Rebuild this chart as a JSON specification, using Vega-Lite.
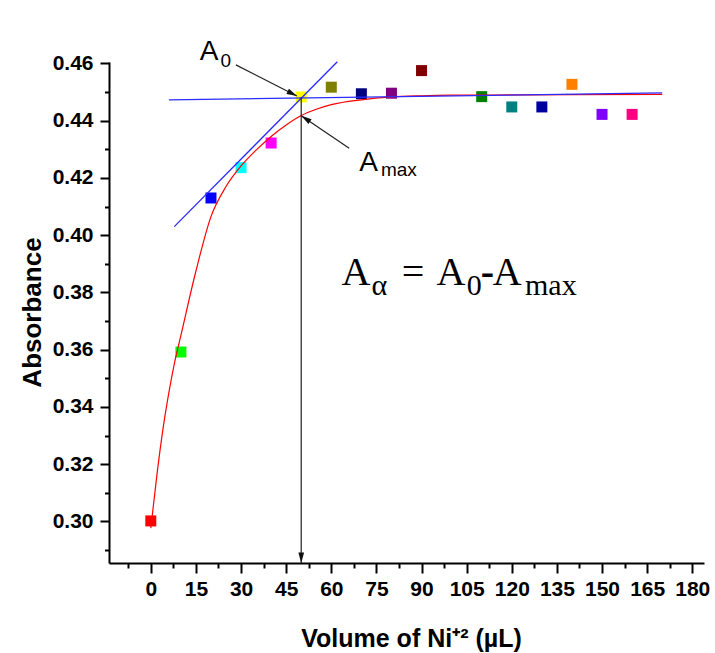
{
  "$schema": "https://vega.github.io/schema/vega-lite/v6.json",
  "autosize": "none",
  "width": 595,
  "height": 501,
  "padding": {"left": 109, "top": 62, "right": 11, "bottom": 90},
  "background": "white",
  "config": {"view": {"stroke": null}},
  "datasets": {
    "pts": [
      {"vol": 0, "abs": 0.3002}, {"vol": 10, "abs": 0.3592}, {"vol": 20, "abs": 0.413},
      {"vol": 30, "abs": 0.4236}, {"vol": 40, "abs": 0.4322}, {"vol": 50, "abs": 0.4483},
      {"vol": 60, "abs": 0.4517}, {"vol": 70, "abs": 0.4494}, {"vol": 80, "abs": 0.4496},
      {"vol": 90, "abs": 0.4575}, {"vol": 110, "abs": 0.4484}, {"vol": 120, "abs": 0.4448},
      {"vol": 130, "abs": 0.4448}, {"vol": 140, "abs": 0.4527}, {"vol": 150, "abs": 0.4422},
      {"vol": 160, "abs": 0.4422}
    ],
    "fit": [
      {"vol": 0, "abs": 0.2977}, {"vol": 2, "abs": 0.316}, {"vol": 4, "abs": 0.332},
      {"vol": 6, "abs": 0.345}, {"vol": 8, "abs": 0.356}, {"vol": 10, "abs": 0.365},
      {"vol": 15, "abs": 0.3875}, {"vol": 20, "abs": 0.4065}, {"vol": 25, "abs": 0.417},
      {"vol": 30, "abs": 0.4242}, {"vol": 35, "abs": 0.4297}, {"vol": 40, "abs": 0.4345},
      {"vol": 45, "abs": 0.4385}, {"vol": 50, "abs": 0.4418}, {"vol": 55, "abs": 0.444},
      {"vol": 60, "abs": 0.4456}, {"vol": 70, "abs": 0.4473}, {"vol": 80, "abs": 0.4483},
      {"vol": 90, "abs": 0.4487}, {"vol": 100, "abs": 0.4489}, {"vol": 120, "abs": 0.449},
      {"vol": 140, "abs": 0.4491}, {"vol": 170, "abs": 0.4492}
    ],
    "lines": [
      {"line": "h", "vol": 6, "abs": 0.4473}, {"line": "h", "vol": 170, "abs": 0.4497},
      {"line": "t", "vol": 7.8, "abs": 0.403}, {"line": "t", "vol": 62, "abs": 0.4606}
    ],
    "segs": [
      {"id": "a0", "vol": 28.27, "abs": 0.4595, "vol2": 48.55, "abs2": 0.4486},
      {"id": "amax", "vol": 65.95, "abs": 0.4304, "vol2": 50.12, "abs2": 0.4416},
      {"id": "v", "vol": 50, "abs": 0.4482, "vol2": 50, "abs2": 0.2855}
    ],
    "heads": [
      {"id": "a0", "vol": 47.06, "abs": 0.4494},
      {"id": "amax", "vol": 51.48, "abs": 0.4407},
      {"id": "v", "vol": 50, "abs": 0.2873}
    ],
    "notes": [
      {"g": "big", "t": "A", "vol": 63.4, "abs": 0.3826},
      {"g": "big", "t": "=", "vol": 83.4, "abs": 0.3826},
      {"g": "big", "t": "A", "vol": 95.0, "abs": 0.3826},
      {"g": "big", "t": "A", "vol": 113.7, "abs": 0.3826},
      {"g": "small", "t": "α", "vol": 73.4, "abs": 0.3791},
      {"g": "small", "t": "0", "vol": 105.0, "abs": 0.3791},
      {"g": "small", "t": "max", "vol": 124.4, "abs": 0.3791},
      {"g": "dash", "t": "-", "vol": 109.7, "abs": 0.3826},
      {"g": "lab", "t": "A", "vol": 16.3, "abs": 0.4612},
      {"g": "lab", "t": "A", "vol": 69.3, "abs": 0.4226},
      {"g": "sub", "t": "0", "vol": 23.2, "abs": 0.4586},
      {"g": "sub", "t": "max", "vol": 76.5, "abs": 0.4208}
    ]
  },
  "encoding": {
    "x": {
      "field": "vol", "type": "quantitative",
      "scale": {"domain": [-13.9, 183.9], "nice": false, "zero": false},
      "axis": {
        "title": "Volume of Ni⁺² (µL)",
        "values": [-7.5, 0, 7.5, 15, 22.5, 30, 37.5, 45, 52.5, 60, 67.5, 75, 82.5, 90, 97.5, 105, 112.5, 120, 127.5, 135, 142.5, 150, 157.5, 165, 172.5, 180],
        "labelExpr": "datum.value % 15 === 0 ? datum.label : ''",
        "format": "d",
        "grid": false, "labelOverlap": false, "labelFlush": false, "labelBound": false,
        "domainColor": "black", "domainWidth": 2, "tickColor": "black", "tickWidth": 2,
        "tickSize": {"condition": {"test": "datum.value % 15 === 0", "value": 10}, "value": 5},
        "labelFont": "Liberation Sans", "labelFontWeight": "bold", "labelFontSize": 21, "labelColor": "black",
        "labelPadding": 5,
        "titleFont": "Liberation Sans", "titleFontWeight": "bold", "titleFontSize": 25, "titleColor": "black",
        "titleX": 302, "titleY": 83, "titleAlign": "center", "titleBaseline": "alphabetic"
      }
    },
    "y": {
      "field": "abs", "type": "quantitative",
      "scale": {"domain": [0.2855, 0.4605], "nice": false, "zero": false},
      "axis": {
        "title": "Absorbance",
        "values": [0.29, 0.3, 0.31, 0.32, 0.33, 0.34, 0.35, 0.36, 0.37, 0.38, 0.39, 0.4, 0.41, 0.42, 0.43, 0.44, 0.45, 0.46],
        "labelExpr": "round(datum.value * 100) % 2 === 0 ? format(datum.value, '.2f') : ''",
        "grid": false, "labelOverlap": false, "labelFlush": false, "labelBound": false,
        "domainColor": "black", "domainWidth": 2, "tickColor": "black", "tickWidth": 2,
        "tickSize": {"condition": {"test": "round(datum.value * 100) % 2 === 0", "value": 9}, "value": 4.5},
        "labelFont": "Liberation Sans", "labelFontWeight": "bold", "labelFontSize": 21, "labelColor": "black",
        "labelPadding": 7,
        "titleFont": "Liberation Sans", "titleFontWeight": "bold", "titleFontSize": 26, "titleColor": "black",
        "titleX": -77, "titleY": 250, "titleAlign": "center", "titleBaseline": "middle", "titleAngle": -90
      }
    }
  },
  "layer": [
    {
      "data": {"name": "pts"},
      "mark": {"type": "point", "shape": "square", "filled": true, "size": 121, "opacity": 1},
      "encoding": {
        "color": {
          "field": "vol", "type": "nominal", "legend": null,
          "scale": {
            "domain": [0, 10, 20, 30, 40, 50, 60, 70, 80, 90, 110, 120, 130, 140, 150, 160],
            "range": ["#ff0000", "#00ff00", "#0000ff", "#00ffff", "#ff00ff", "#ffff00", "#808000", "#000080", "#800080", "#800000", "#008000", "#008080", "#0000a0", "#ff8000", "#8000ff", "#ff0080"]
          }
        }
      }
    },
    {
      "data": {"name": "fit"},
      "mark": {"type": "line", "color": "#ff0000", "strokeWidth": 1.2, "interpolate": "monotone"},
      "encoding": {}
    },
    {
      "data": {"name": "lines"},
      "mark": {"type": "line", "color": "#2b2bff", "strokeWidth": 1.3},
      "encoding": {"detail": {"field": "line"}}
    },
    {
      "data": {"name": "segs"},
      "mark": {"type": "rule", "color": "#222222", "strokeWidth": 1.2},
      "encoding": {"x2": {"field": "vol2"}, "y2": {"field": "abs2"}}
    },
    {
      "data": {"name": "heads"},
      "transform": [{"filter": "datum.id === 'a0'"}],
      "mark": {"type": "point", "shape": "M1,0L-1,-0.55L-1,0.55Z", "filled": true, "color": "#111111", "size": 110, "opacity": 1, "angle": 26.3},
      "encoding": {}
    },
    {
      "data": {"name": "heads"},
      "transform": [{"filter": "datum.id === 'amax'"}],
      "mark": {"type": "point", "shape": "M1,0L-1,-0.55L-1,0.55Z", "filled": true, "color": "#111111", "size": 110, "opacity": 1, "angle": 214.2},
      "encoding": {}
    },
    {
      "data": {"name": "heads"},
      "transform": [{"filter": "datum.id === 'v'"}],
      "mark": {"type": "point", "shape": "M1,0L-1,-0.55L-1,0.55Z", "filled": true, "color": "#111111", "size": 110, "opacity": 1, "angle": 90},
      "encoding": {}
    },
    {
      "data": {"name": "notes"},
      "transform": [{"filter": "datum.g === 'big'"}],
      "mark": {"type": "text", "font": "Liberation Serif", "fontSize": 40, "align": "left", "baseline": "alphabetic", "color": "black"},
      "encoding": {"text": {"field": "t"}}
    },
    {
      "data": {"name": "notes"},
      "transform": [{"filter": "datum.g === 'small'"}],
      "mark": {"type": "text", "font": "Liberation Serif", "fontSize": 30, "align": "left", "baseline": "alphabetic", "color": "black"},
      "encoding": {"text": {"field": "t"}}
    },
    {
      "data": {"name": "notes"},
      "transform": [{"filter": "datum.g === 'dash'"}],
      "mark": {"type": "text", "font": "Liberation Serif", "fontSize": 40, "fontWeight": "bold", "align": "left", "baseline": "alphabetic", "color": "black"},
      "encoding": {"text": {"field": "t"}}
    },
    {
      "data": {"name": "notes"},
      "transform": [{"filter": "datum.g === 'lab'"}],
      "mark": {"type": "text", "font": "Liberation Sans", "fontSize": 28, "align": "left", "baseline": "alphabetic", "color": "black"},
      "encoding": {"text": {"field": "t"}}
    },
    {
      "data": {"name": "notes"},
      "transform": [{"filter": "datum.g === 'sub'"}],
      "mark": {"type": "text", "font": "Liberation Sans", "fontSize": 19, "align": "left", "baseline": "alphabetic", "color": "black"},
      "encoding": {"text": {"field": "t"}}
    }
  ]
}
